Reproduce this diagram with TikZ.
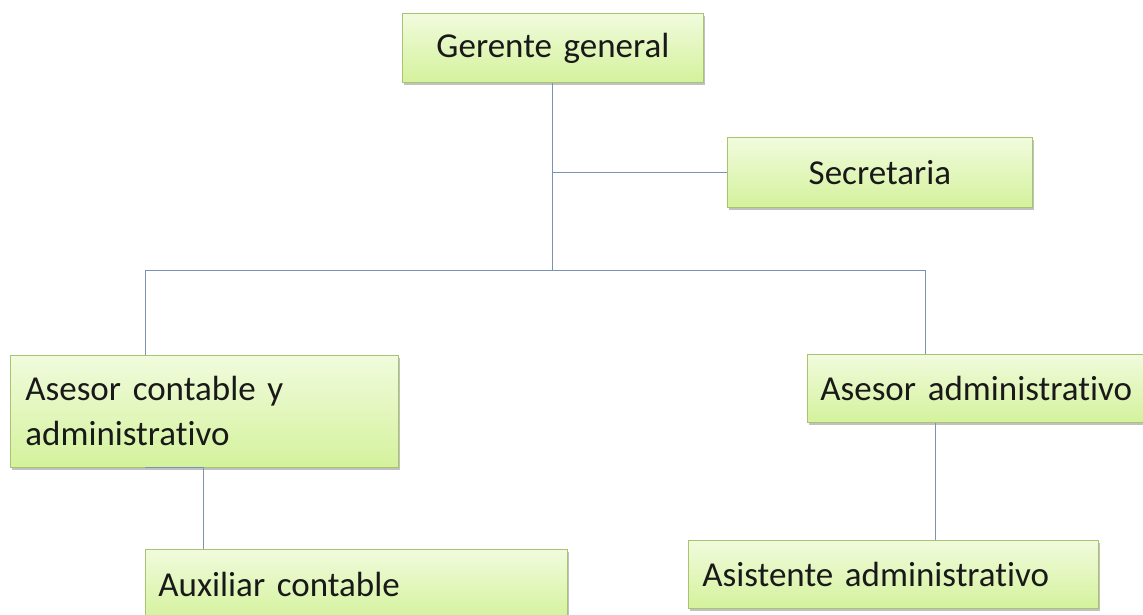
\documentclass[tikz,border=0pt]{standalone}
\usepackage{fontspec}
\setmainfont{Carlito}[Ligatures=NoCommon]
\usetikzlibrary{shadows}
\definecolor{boxtop}{HTML}{F1FBDD}
\definecolor{boxbot}{HTML}{D4F29C}
\definecolor{boxline}{HTML}{A9C46E}
\definecolor{linkc}{HTML}{7A93B3}
\tikzset{
  orgbox/.style={draw=boxline, line width=0.8pt, top color=boxtop, bottom color=boxbot,
    drop shadow={shadow xshift=2pt, shadow yshift=-3pt, opacity=0.35, fill=black!70},
    rectangle, anchor=north west, inner xsep=14pt, inner ysep=0pt, align=left,
    font=\fontsize{35}{45}\selectfont, text=black!90},
  link/.style={draw=linkc, line width=1pt}
}
\begin{document}
\begin{tikzpicture}[x=1pt,y=-1pt]
\useasboundingbox (0,0) rectangle (1143,615);
\clip (0,0) rectangle (1143,615);
\node[orgbox, minimum width=301pt, minimum height=69pt, text width=273pt, align=center] (gg) at (402,13) {Gerente general};
\node[orgbox, minimum width=305pt, minimum height=70pt, text width=277pt, align=center] (sec) at (727,137) {Secretaria};
\node[orgbox, minimum width=388pt, minimum height=112pt, text width=358pt, inner xsep=15pt] (ac) at (10,355) {Asesor contable y\\administrativo};
\node[orgbox, minimum width=350pt, minimum height=68pt, text width=324pt, inner xsep=13pt] (aa) at (807,354) {Asesor administrativo};
\node[orgbox, minimum width=422pt, minimum height=70pt, text width=396pt, inner xsep=13pt] (aux) at (145,549) {Auxiliar contable};
\node[orgbox, minimum width=410pt, minimum height=68pt, text width=382pt] (asis) at (688,540) {Asistente administrativo};
\coordinate (j1) at (552,270);
\coordinate (L) at (145,270);
\coordinate (R) at (925,270);
\coordinate (k) at (203,467);
\coordinate (m) at (935,480);
\draw[link] (gg.south) -- (gg.south |- j1);
\draw[link] (sec.west) -- (sec.west -| j1);
\draw[link] (L |- ac.north) -- (L) -- (R) -- (R |- aa.north);
\draw[link] (L |- ac.south) -- (k |- ac.south) -- (k |- aux.north);
\draw[link] (m |- aa.south) -- (m |- asis.north);
\end{tikzpicture}
\end{document}
